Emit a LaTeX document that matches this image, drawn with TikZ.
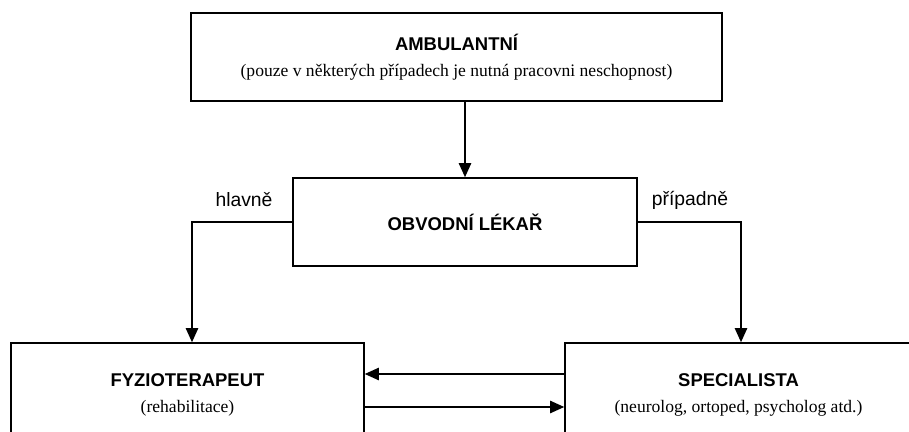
\documentclass[tikz,border=0pt]{standalone}
\usepackage{fontspec}
\setmainfont{Liberation Serif}
\newfontfamily\arialfont{Liberation Sans}
\usepackage{tikz}
\usetikzlibrary{arrows.meta,positioning,calc}

\tikzset{
    box/.style={draw, line width=0.9pt, align=center, inner sep=0pt},
    arr/.style={line width=0.9pt, -{Triangle[length=8pt,width=7pt]}},
    lbl/.style={font=\arialfont\fontsize{11}{13}\selectfont},
}
\newcommand{\boxtitle}[1]{{\arialfont\bfseries\fontsize{10.5}{12}\selectfont #1}}
\newcommand{\boxsub}[1]{{\fontsize{10}{12}\selectfont #1}}

\begin{document}
\begin{tikzpicture}[x=0.02cm, y=-0.02cm]

    \clip (0,0) rectangle (909,432);

    % ---------------- Boxes ----------------
    \node[box, minimum width=10.62cm, minimum height=1.76cm] (amb) at (456.5,57)
        {\boxtitle{AMBULANTNÍ}\\[3pt]\boxsub{(pouze v některých případech je nutná pracovni neschopnost)}};
    \node[box, minimum width=6.88cm, minimum height=1.76cm] (obv) at (465,222)
        {\boxtitle{OBVODNÍ LÉKAŘ}};
    \node[box, minimum width=7.06cm, minimum height=2.08cm] (fyzio) at (187.5,395)
        {\boxtitle{FYZIOTERAPEUT}\\[3pt]\boxsub{(rehabilitace)}};
    \node[box, minimum width=6.94cm, minimum height=2.08cm] (spec) at (738.5,395)
        {\boxtitle{SPECIALISTA}\\[3pt]\boxsub{(neurolog, ortoped, psycholog atd.)}};

    % ---------------- Labels ----------------
    \node[lbl] (hlavne) at (244,200) {hlavně};
    \node[lbl] (pripadne) at (690,200) {případně};

    % ---------------- Connectors ----------------
    \draw[arr] (obv.north |- amb.south) -- (obv.north);
    \draw[arr] (obv.west) -| ([xshift=0.09cm]fyzio.north);
    \draw[arr] (obv.east) -| ([xshift=0.05cm]spec.north);
    \draw[arr] ([yshift=0.42cm]spec.west) -- ([yshift=0.42cm]fyzio.east);
    \draw[arr] ([yshift=-0.24cm]fyzio.east) -- ([yshift=-0.24cm]spec.west);

\end{tikzpicture}
\end{document}
